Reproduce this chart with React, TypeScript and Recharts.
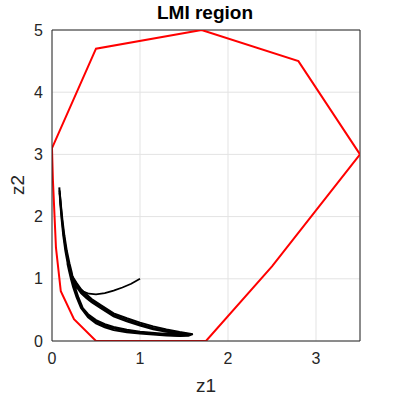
import React from "react";
import { LineChart, Line, XAxis, YAxis, CartesianGrid, ReferenceLine } from "recharts";

// LMI region boundary (closed polygon)
const regionX = [0, 0.5, 1.7, 2.8, 3.5, 2.5, 1.75, 0.5, 0.25, 0.1, 0.045, 0.01, 0];
const regionY = [3.1, 4.7, 5.0, 4.5, 3.0, 1.2, 0, 0, 0.35, 0.8, 1.5, 2.6, 3.1];

// trajectories: down the stem, out along the upper band, back along the lower band
const traj1X = [0.083, 0.095, 0.11, 0.128, 0.152, 0.178, 0.2, 0.24, 0.28, 0.33, 0.39, 0.45, 0.55, 0.7, 0.85, 1.0, 1.15, 1.3, 1.45, 1.6, 1.55, 1.45, 1.3, 1.15, 1.0, 0.85, 0.7, 0.6, 0.5, 0.41, 0.33, 0.28, 0.24, 0.215, 0.195, 0.175];
const traj1Y = [2.47, 2.2, 1.95, 1.7, 1.45, 1.25, 1.1, 1.02, 0.93, 0.83, 0.75, 0.675, 0.58, 0.445, 0.365, 0.295, 0.235, 0.185, 0.145, 0.11, 0.085, 0.08, 0.09, 0.105, 0.12, 0.14, 0.175, 0.22, 0.285, 0.38, 0.53, 0.7, 0.87, 1.0, 1.12, 1.25];

const traj2X = [0.086, 0.098, 0.114, 0.134, 0.16, 0.188, 0.212, 0.24, 0.28, 0.33, 0.39, 0.45, 0.55, 0.7, 0.85, 1.0, 1.15, 1.3, 1.45, 1.56, 1.52, 1.45, 1.3, 1.15, 1.0, 0.85, 0.7, 0.6, 0.5, 0.41, 0.34, 0.29, 0.25, 0.225, 0.205, 0.185];
const traj2Y = [2.42, 2.2, 1.95, 1.7, 1.45, 1.25, 1.1, 1.0, 0.9, 0.8, 0.72, 0.65, 0.555, 0.42, 0.34, 0.27, 0.21, 0.165, 0.13, 0.11, 0.095, 0.09, 0.1, 0.115, 0.135, 0.16, 0.2, 0.245, 0.31, 0.405, 0.53, 0.7, 0.87, 1.0, 1.12, 1.25];

const traj3X = [0.088, 0.1, 0.118, 0.14, 0.168, 0.198, 0.224, 0.24, 0.28, 0.33, 0.39, 0.45, 0.55, 0.7, 0.85, 1.0, 1.15, 1.3, 1.42, 1.5, 1.45, 1.35, 1.2, 1.0, 0.85, 0.7, 0.6, 0.5, 0.41, 0.35, 0.3, 0.26, 0.235, 0.215, 0.195];
const traj3Y = [2.38, 2.2, 1.95, 1.7, 1.45, 1.25, 1.1, 0.98, 0.87, 0.77, 0.69, 0.625, 0.53, 0.395, 0.315, 0.25, 0.19, 0.15, 0.125, 0.112, 0.105, 0.11, 0.125, 0.15, 0.18, 0.225, 0.27, 0.335, 0.43, 0.53, 0.7, 0.87, 1.0, 1.12, 1.25];

// trajectory starting at (1, 1)
const trajAX = [1.0, 0.9, 0.8, 0.7, 0.6, 0.5, 0.42, 0.35, 0.3, 0.26, 0.22];
const trajAY = [1.0, 0.92, 0.86, 0.81, 0.77, 0.75, 0.76, 0.8, 0.87, 0.95, 1.06];

const xTicks = [0, 1, 2, 3];
const yTicks = [0, 1, 2, 3, 4, 5];

const zip = (xs: number[], ys: number[]) => xs.map((x, i) => ({ x, y: ys[i] }));

const region = zip(regionX, regionY);
const trajectories = [zip(traj1X, traj1Y), zip(traj2X, traj2Y), zip(traj3X, traj3Y), zip(trajAX, trajAY)];

const axisColor = "#262626";
const font = "'Liberation Sans', Arial, sans-serif";

export default function App() {
  return (
    <div style={{ position: "absolute", left: 0, top: 0, width: 399, height: 399, background: "#fff", fontFamily: font }}>
      <LineChart width={399} height={399} margin={{ top: 30, right: 39, left: 12, bottom: 18 }}>
        <CartesianGrid stroke="#e3e3e3" strokeWidth={1} />
        <XAxis
          type="number"
          dataKey="x"
          domain={[0, 3.5]}
          ticks={xTicks}
          height={40}
          tickLine={false}
          tickMargin={6}
          axisLine={{ stroke: axisColor }}
          tick={{ fill: axisColor, fontSize: 16, fontFamily: font }}
          allowDataOverflow
        />
        <YAxis
          type="number"
          dataKey="y"
          domain={[0, 5]}
          ticks={yTicks}
          width={40}
          tickLine={false}
          tickMargin={3}
          axisLine={{ stroke: axisColor }}
          tick={{ fill: axisColor, fontSize: 16, fontFamily: font }}
          allowDataOverflow
        />
        <ReferenceLine x={3.5} stroke={axisColor} />
        <ReferenceLine y={5} stroke={axisColor} />
        {trajectories.map((d, i) => (
          <Line
            key={i}
            data={d}
            dataKey="y"
            type="linear"
            stroke="#000"
            strokeWidth={i === 3 ? 1.8 : 2}
            dot={false}
            isAnimationActive={false}
          />
        ))}
        <Line data={region} dataKey="y" type="linear" stroke="#ff0000" strokeWidth={2} dot={false} isAnimationActive={false} />
      </LineChart>
      <div style={{ position: "absolute", left: 0, width: 410, top: 2, textAlign: "center", fontSize: 19, fontWeight: "bold", color: "#000" }}>
        LMI region
      </div>
      <div style={{ position: "absolute", left: 52, width: 308, top: 375, textAlign: "center", fontSize: 19, color: axisColor }}>
        z1
      </div>
      <div style={{ position: "absolute", left: 18, top: 185, fontSize: 19, color: axisColor, transform: "translate(-50%, -50%) rotate(-90deg)" }}>
        z2
      </div>
    </div>
  );
}
